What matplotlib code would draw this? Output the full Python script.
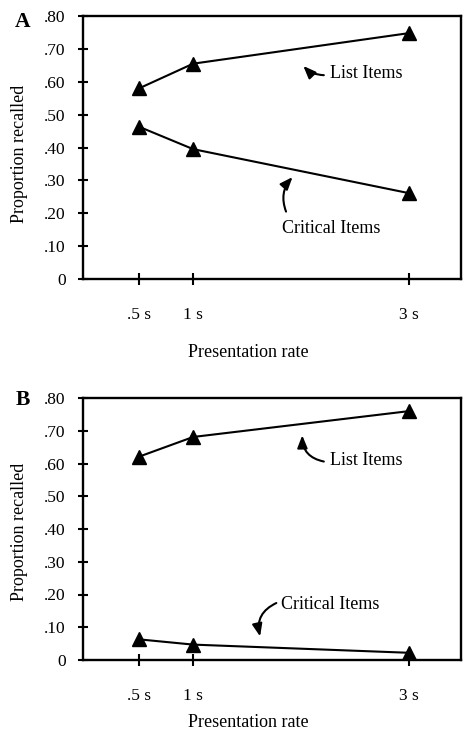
import matplotlib
matplotlib.use("Agg")
import matplotlib.pyplot as plt

plt.rcParams['font.family'] = ['Liberation Serif', 'DejaVu Serif']

rates = [0.5, 1.0, 3.0]
rate_labels = [".5 s", "1 s", "3 s"]
y_ticks = [0, 0.1, 0.2, 0.3, 0.4, 0.5, 0.6, 0.7, 0.8]
y_tick_labels = ["0", ".10", ".20", ".30", ".40", ".50", ".60", ".70", ".80"]

list_A = [0.58, 0.655, 0.748]
critical_A = [0.463, 0.395, 0.261]
list_B = [0.621, 0.681, 0.760]
critical_B = [0.063, 0.047, 0.022]

fig = plt.figure(figsize=(4.63, 7.31), dpi=100)

W, H = 463, 731

def make_axes(top_px, bottom_px):
    left, right = 83, 461
    return fig.add_axes([left / W, 1 - bottom_px / H, (right - left) / W, (bottom_px - top_px) / H])

axA = make_axes(16, 279)
axB = make_axes(398, 660)

arrow_kw = dict(arrowstyle='-|>,head_length=0.75,head_width=0.3', color='black', lw=1.5,
                shrinkA=0, shrinkB=0)

def style(ax, letter, letter_y, xlabel_y, ylabel_y):
    ax.set_xlim(-0.02, 3.48)
    ax.set_ylim(0, 0.8)
    ax.set_yticks(y_ticks)
    ax.set_yticklabels(y_tick_labels, fontsize=12.5)
    ax.set_xticks(rates)
    ax.set_xticklabels(rate_labels, fontsize=12.5)
    ax.tick_params(axis='y', direction='inout', length=7, width=1.5, pad=9)
    ax.tick_params(axis='x', direction='inout', length=9, width=1.5, pad=16)
    for sp in ax.spines.values():
        sp.set_linewidth(1.7)
    ax.set_xlabel("Presentation rate", fontsize=13)
    ax.xaxis.set_label_coords(0.437, xlabel_y)
    ax.xaxis.label.set_va('center')
    ax.set_ylabel("Proportion recalled", fontsize=13)
    ax.yaxis.set_label_coords(-0.167, ylabel_y)
    ax.yaxis.label.set_va('center')
    fig.text(23 / W, 1 - letter_y / H, letter, fontsize=15.5, fontweight='bold',
             ha='center', va='center')

# Panel A
axA.plot(rates, list_A, color='black', lw=1.5, marker='^', markersize=9.5)
axA.plot(rates, critical_A, color='black', lw=1.5, marker='^', markersize=9.5)
axA.text(2.27, 0.624, "List Items", fontsize=13, ha='left', va='center')
axA.annotate('', xy=(2.02, 0.648), xytext=(2.21, 0.62),
             arrowprops=dict(connectionstyle='arc3,rad=-0.2', **arrow_kw))
axA.text(1.82, 0.155, "Critical Items", fontsize=13, ha='left', va='center')
axA.annotate('', xy=(1.92, 0.31), xytext=(1.86, 0.205),
             arrowprops=dict(connectionstyle='arc3,rad=-0.3', **arrow_kw))
style(axA, "A", 22, -0.278, 0.477)

# Panel B
axB.plot(rates, list_B, color='black', lw=1.5, marker='^', markersize=9.5)
axB.plot(rates, critical_B, color='black', lw=1.5, marker='^', markersize=9.5)
axB.text(2.27, 0.61, "List Items", fontsize=13, ha='left', va='center')
axB.annotate('', xy=(2.01, 0.686), xytext=(2.21, 0.606),
             arrowprops=dict(connectionstyle='arc3,rad=-0.4', **arrow_kw))
axB.text(1.81, 0.168, "Critical Items", fontsize=13, ha='left', va='center')
axB.annotate('', xy=(1.62, 0.072), xytext=(1.77, 0.174),
             arrowprops=dict(connectionstyle='arc3,rad=0.4', **arrow_kw))
style(axB, "B", 400, -0.24, 0.49)

fig.savefig("out.png", dpi=100)
